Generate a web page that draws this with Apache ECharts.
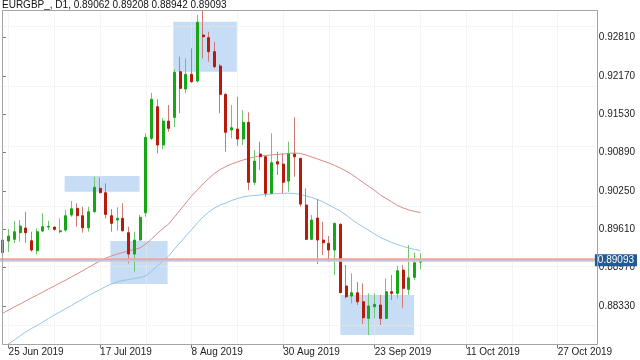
<!DOCTYPE html>
<html><head><meta charset="utf-8">
<script src="https://cdn.jsdelivr.net/npm/echarts@6/dist/echarts.min.js"></script>
<style>html,body{margin:0;padding:0;background:#fff}#c{width:640px;height:360px}</style>
</head><body><div id="c"></div>
<script>
// ---- data (EURGBP daily) ----
const dates = ['24 Jun','25 Jun','26 Jun','27 Jun','28 Jun','1 Jul','2 Jul','3 Jul','4 Jul','5 Jul',
'8 Jul','9 Jul','10 Jul','11 Jul','12 Jul','15 Jul','16 Jul','17 Jul','18 Jul','19 Jul',
'22 Jul','23 Jul','24 Jul','25 Jul','26 Jul','29 Jul','30 Jul','31 Jul','1 Aug','2 Aug',
'5 Aug','6 Aug','7 Aug','8 Aug','9 Aug','12 Aug','13 Aug','14 Aug','15 Aug','16 Aug',
'19 Aug','20 Aug','21 Aug','22 Aug','23 Aug','26 Aug','27 Aug','28 Aug','29 Aug','30 Aug',
'2 Sep','3 Sep','4 Sep','5 Sep','6 Sep','9 Sep','10 Sep','11 Sep','12 Sep','13 Sep',
'16 Sep','17 Sep','18 Sep','19 Sep','20 Sep','23 Sep','24 Sep','25 Sep','26 Sep','27 Sep',
'30 Sep','1 Oct','2 Oct','3 Oct'];
const opens = [0.89219,0.89414,0.89443,0.89553,0.89631,0.89419,0.89252,0.89581,0.89648,0.89648,
0.89570,0.89598,0.89849,0.89960,0.89837,0.89636,0.89904,0.90294,0.90221,0.89837,
0.89765,0.89793,0.89553,0.89197,0.89431,0.89887,0.91129,0.91657,0.91018,0.91418,
0.91480,0.92242,0.91953,0.92198,0.92086,0.92855,0.92810,0.92576,0.92337,0.91864,
0.91268,0.91285,0.91118,0.91397,0.90395,0.90867,0.90822,0.90211,0.90739,0.90700,
0.90416,0.90867,0.90795,0.90016,0.89443,0.89798,0.89431,0.89376,0.89264,0.89693,
0.88663,0.88496,0.88551,0.88401,0.88123,0.88317,0.88346,0.88123,0.88568,0.88541,
0.88930,0.88608,0.88808,0.89062];
const closes = [0.89431,0.89498,0.89570,0.89665,0.89553,0.89264,0.89570,0.89653,0.89660,0.89610,
0.89586,0.89837,0.89954,0.89837,0.89636,0.89904,0.90311,0.90221,0.89860,0.89710,
0.89793,0.89586,0.89197,0.89431,0.89810,0.91146,0.91781,0.91018,0.91418,0.91296,
0.92232,0.91964,0.92198,0.92075,0.93067,0.92826,0.92576,0.92325,0.91864,0.91230,
0.91306,0.91118,0.91397,0.90395,0.90750,0.90822,0.90211,0.90722,0.90700,0.90395,
0.90867,0.90822,0.90032,0.89443,0.89765,0.89431,0.89386,0.89264,0.89710,0.88551,
0.88484,0.88551,0.88401,0.88133,0.88330,0.88357,0.88123,0.88568,0.88541,0.88918,
0.88624,0.88801,0.89052,0.89093];
const lows = [0.89181,0.89231,0.89381,0.89403,0.89386,0.89236,0.89192,0.89570,0.89598,0.89586,
0.89543,0.89570,0.89820,0.89653,0.89553,0.89570,0.89890,0.90211,0.89793,0.89570,
0.89586,0.89575,0.89042,0.88902,0.89423,0.89820,0.91101,0.90879,0.90946,0.91240,
0.91313,0.91547,0.91881,0.92058,0.92058,0.92465,0.92409,0.92299,0.91547,0.90906,
0.91129,0.91006,0.91018,0.90266,0.90350,0.90600,0.90154,0.90200,0.90517,0.90211,
0.90238,0.90488,0.89987,0.89435,0.89435,0.89030,0.89181,0.89069,0.88847,0.88545,
0.88457,0.88374,0.88346,0.88028,0.87845,0.88123,0.88012,0.88115,0.88429,0.88457,
0.88300,0.88513,0.88763,0.88942];
const highs = [0.89498,0.89615,0.89748,0.89765,0.89904,0.89570,0.89626,0.89877,0.89753,0.89653,
0.89793,0.89932,0.90082,0.90044,0.89987,0.89987,0.90488,0.90478,0.90378,0.89949,
0.89977,0.90044,0.89653,0.89570,0.89849,0.91213,0.91891,0.91781,0.91473,0.91686,
0.92282,0.92492,0.92465,0.92632,0.93189,0.93264,0.92910,0.92743,0.92370,0.91880,
0.91686,0.91824,0.91602,0.91564,0.90934,0.91073,0.90830,0.91213,0.90906,0.90879,
0.91073,0.91480,0.90800,0.90294,0.89849,0.90116,0.89737,0.89498,0.89720,0.89710,
0.89014,0.88875,0.88730,0.88708,0.88541,0.88541,0.88513,0.88791,0.88847,0.88997,
0.89014,0.89348,0.89219,0.89208];
const maRed = [0.88210,0.88262,0.88315,0.88361,0.88414,0.88466,0.88512,0.88563,0.88616,0.88662,
0.88715,0.88762,0.88816,0.88866,0.88921,0.88975,0.89029,0.89082,0.89129,0.89166,
0.89197,0.89224,0.89246,0.89274,0.89301,0.89365,0.89449,0.89541,0.89624,0.89699,
0.89816,0.89933,0.90050,0.90167,0.90267,0.90367,0.90459,0.90543,0.90609,0.90659,
0.90701,0.90735,0.90768,0.90793,0.90818,0.90835,0.90843,0.90852,0.90860,0.90868,
0.90877,0.90885,0.90877,0.90852,0.90818,0.90785,0.90751,0.90718,0.90676,0.90634,
0.90584,0.90526,0.90459,0.90392,0.90325,0.90259,0.90184,0.90125,0.90067,0.90008,
0.89966,0.89933,0.89908,0.89891];
const maBlue = [0.87628,0.87695,0.87762,0.87829,0.87896,0.87954,0.88004,0.88063,0.88121,0.88180,
0.88230,0.88288,0.88338,0.88397,0.88447,0.88505,0.88555,0.88605,0.88655,0.88697,
0.88731,0.88756,0.88772,0.88789,0.88806,0.88831,0.88914,0.88998,0.89081,0.89165,
0.89282,0.89390,0.89499,0.89607,0.89716,0.89816,0.89900,0.89966,0.90017,0.90050,
0.90092,0.90125,0.90150,0.90167,0.90175,0.90184,0.90192,0.90200,0.90209,0.90212,
0.90212,0.90209,0.90192,0.90167,0.90142,0.90108,0.90067,0.90017,0.89966,0.89916,
0.89850,0.89774,0.89708,0.89649,0.89591,0.89532,0.89474,0.89432,0.89390,0.89357,
0.89323,0.89298,0.89273,0.89257];
const yTickValues = [0.88330,0.88970,0.89610,0.90250,0.90890,0.91530,0.92170,0.92810];
const xTickIndex = [1,17,33,49,65,81,97];
const xTickLabels = ['25 Jun 2019','17 Jul 2019','8 Aug 2019','30 Aug 2019','23 Sep 2019','11 Oct 2019','27 Oct 2019'];
const xGridIndex = [1,9,17,25,33,41,49,57,65,73,81,89,97];
const boxLeft = [10.8, 18.8, 29.8, 59.0];
const boxRight = [23.9, 28.8, 40.9, 71.9];
const boxTop = [0.90500, 0.89415, 0.93077, 0.88513];
const boxBottom = [0.90238, 0.88697, 0.92242, 0.87846];
const lastPrice = 0.89093;
const bidLineValue = 0.89108;
const askLineValue = 0.89083;
const titleText = 'EURGBP_, D1, 0.89062 0.89208 0.88942 0.89093';
const totalSlots = 104;   // bars + empty future space on the time axis
const yMin = 0.87690, yMax = 0.93264;

// ---- build ----
const categories = dates.slice();
for (let k = dates.length; k < totalSlots; k++) categories.push('f' + k);
const ohlc = opens.map((o, i) => [o, closes[i], lows[i], highs[i]]);
const bodies = opens.map((o, i) => [o, closes[i], Math.min(o, closes[i]), Math.max(o, closes[i])]);
const labelMap = {};
xTickIndex.forEach((ix, k) => labelMap[ix] = xTickLabels[k]);
const showTick = (i) => xTickIndex.indexOf(i) >= 0;
const FONT = '"Liberation Sans", Arial, sans-serif';
const fullSpan = (v) => [[-0.5, v], [totalSlots - 0.5, v]];

const chart = echarts.init(document.getElementById('c'), null, {renderer: 'canvas'});
chart.setOption({
  animation: false,
  backgroundColor: '#ffffff',
  textStyle: {fontFamily: FONT},
  title: {text: titleText, left: 2, top: 0, padding: 0,
    textStyle: {fontSize: 10, fontWeight: 'normal', color: '#111', fontFamily: FONT, lineHeight: 10}},
  grid: {left: 0, right: 42.5, top: 10.5, bottom: 15.7, containLabel: false},
  xAxis: [{
    type: 'category', data: categories, boundaryGap: true,
    axisLine: {show: false},
    axisTick: {show: true, alignWithLabel: true, interval: showTick, length: 4, lineStyle: {color: '#777'}},
    axisLabel: {interval: showTick, formatter: (v, i) => labelMap[i] || '', align: 'left',
      margin: 3, fontSize: 10, color: '#222', fontFamily: FONT},
    splitLine: {show: false}
  }, {
    type: 'value', min: -0.5, max: totalSlots - 0.5, show: false, splitLine: {show: false}
  }],
  yAxis: [{
    type: 'value', position: 'right', min: yMin, max: yMax,
    axisLine: {show: false},
    axisTick: {show: true, length: 3, lineStyle: {color: '#777'}, customValues: yTickValues},
    axisLabel: {customValues: yTickValues, formatter: v => v.toFixed(5), fontSize: 10,
      color: '#222', margin: 4, fontFamily: FONT},
    splitLine: {show: false}
  }, {
    type: 'value', position: 'right', min: yMin, max: yMax, offset: 0,
    axisLine: {show: false}, axisTick: {show: false}, splitLine: {show: false},
    axisLabel: {customValues: [lastPrice], formatter: v => v.toFixed(5), fontSize: 10,
      color: '#ffffff', backgroundColor: '#245a92', padding: [1, 3, 1, 3], lineHeight: 10,
      margin: 0, fontFamily: FONT}
  }],
  graphic: [{
    type: 'rect', z: 100, silent: true,
    shape: {x: 2.5, y: 10.5, width: 595, height: 334},
    style: {fill: 'none', stroke: '#a4a4a4', lineWidth: 1}
  }],
  series: [
    {
      type: 'line', xAxisIndex: 1, yAxisIndex: 0, data: [], z: 1, silent: true,
      markArea: {silent: true, z: 0, itemStyle: {color: '#c7ddf6'},
        data: boxLeft.map((l, k) => [{xAxis: l, yAxis: boxTop[k]}, {xAxis: boxRight[k], yAxis: boxBottom[k]}])},
      markLine: {silent: true, z: 1, symbol: 'none', label: {show: false},
        lineStyle: {color: '#ebebeb', type: 'dotted', width: 1},
        data: yTickValues.map(v => ({yAxis: v})).concat(xGridIndex.map(i => ({xAxis: i})))}
    },
    {type: 'line', data: maRed, showSymbol: false, z: 2, silent: true,
      lineStyle: {color: '#de8a84', width: 1}},
    {type: 'line', data: maBlue, showSymbol: false, z: 2, silent: true,
      lineStyle: {color: '#92c5ea', width: 1}},
    {type: 'candlestick', data: ohlc, barWidth: 1, z: 3, silent: true,
      itemStyle: {color: '#72c672', color0: '#cc7a72', borderColor: '#72c672', borderColor0: '#cc7a72', borderWidth: 1}},
    {type: 'candlestick', data: bodies, barWidth: 2.5, z: 4, silent: true,
      itemStyle: {color: '#16a616', color0: '#b61b0b', borderColor: '#16a616', borderColor0: '#b61b0b', borderWidth: 1}},
    {type: 'line', xAxisIndex: 1, data: fullSpan(bidLineValue), showSymbol: false, z: 6, silent: true,
      lineStyle: {color: '#f3a2a2', width: 2.5}},
    {type: 'line', xAxisIndex: 1, data: fullSpan(askLineValue), showSymbol: false, z: 6, silent: true,
      lineStyle: {color: '#b3cfeb', width: 1.5}}
  ]
});
</script>
</body></html>
